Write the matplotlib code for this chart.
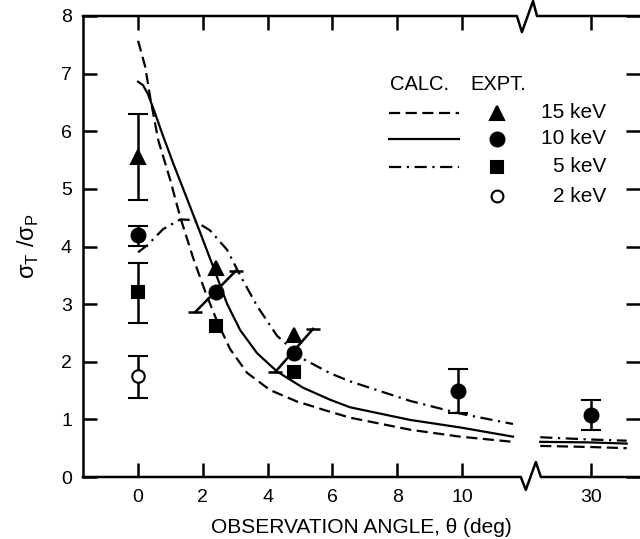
import numpy as np
import matplotlib.pyplot as plt

plt.rcParams['font.family'] = ['Liberation Sans', 'DejaVu Sans']
plt.rcParams['mathtext.fontset'] = 'custom'
plt.rcParams['mathtext.rm'] = 'Liberation Sans'


# broken x axis: 0..12 linear, then a compressed segment around 30 deg
def pos(theta):
    theta = np.asarray(theta, dtype=float)
    return np.where(theta <= 15, theta, 13.98 + (theta - 30) * 0.157)


# calculated curves (left segment)
th_15 = [0, 0.22, 0.37, 0.62, 0.99, 1.30, 1.70, 2.07, 2.44, 2.84, 3.36, 4.07, 4.9, 5.31, 5.7, 6.54, 8.4, 9.94, 11.57]
calc_15 = [7.57, 7.12, 6.6, 5.85, 5.16, 4.51, 3.80, 3.22, 2.70, 2.22, 1.81, 1.51, 1.31, 1.24, 1.17, 1.03, 0.82, 0.70, 0.61]
th_10 = [0, 0.15, 0.30, 0.50, 0.75, 1.08, 1.51, 1.91, 2.31, 2.75, 3.15, 3.67, 4.29, 5.09, 5.93, 6.54, 8.4, 9.94, 11.57]
calc_10 = [6.86, 6.80, 6.65, 6.35, 5.95, 5.45, 4.83, 4.25, 3.66, 3.00, 2.55, 2.15, 1.83, 1.55, 1.34, 1.21, 0.99, 0.86, 0.70]
th_5 = [0, 0.28, 0.77, 1.3, 1.7, 2.22, 2.75, 3.15, 3.67, 4.29, 5.09, 5.93, 6.54, 8.4, 9.94, 11.57]
calc_5 = [3.9, 4.02, 4.30, 4.47, 4.46, 4.28, 3.94, 3.50, 2.97, 2.45, 2.05, 1.80, 1.66, 1.32, 1.10, 0.92]

# calculated curves (right segment)
th_far = [20, 30, 37]
far_15 = [0.54, 0.52, 0.50]
far_10 = [0.61, 0.60, 0.58]
far_5 = [0.69, 0.65, 0.63]

# experiment
exp15_th = [0, 2.41, 4.81]
exp15_val = [5.55, 3.62, 2.47]
exp15_lo = [4.81, np.nan, np.nan]
exp15_hi = [6.30, np.nan, np.nan]

exp10_th = [0, 2.41, 4.81, 9.88, 30]
exp10_val = [4.20, 3.21, 2.15, 1.49, 1.08]
exp10_lo = [4.01, np.nan, np.nan, 1.11, 0.82]
exp10_hi = [4.36, np.nan, np.nan, 1.88, 1.34]

exp5_th = [0, 2.41, 4.81]
exp5_val = [3.21, 2.62, 1.82]
exp5_lo = [2.67, np.nan, np.nan]
exp5_hi = [3.71, np.nan, np.nan]

exp2_th = [0]
exp2_val = [1.75]
exp2_lo = [1.37]
exp2_hi = [2.10]

# tilted error bars on the 10 keV points at 2.4 and 4.8 deg
tilt_x = [[1.76, 3.02], [4.23, 5.40]]
tilt_y = [[2.86, 3.58], [1.82, 2.57]]

xticks = [0, 2, 4, 6, 8, 10, 30]
yticks = [0, 1, 2, 3, 4, 5, 6, 7, 8]

fig = plt.figure(figsize=(6.4, 5.39), dpi=100)
ax = fig.add_axes([83 / 640, 62 / 539, 557 / 640, 461 / 539])
ax.set_xlim(-1.70, 15.49)
ax.set_ylim(0, 8)

lw = 1.6
dash = (5, 2.5)
dashdot = (5.5, 2.5, 1, 2.5)
ax.plot(th_15, calc_15, color='black', lw=lw, dashes=dash)
ax.plot(th_10, calc_10, color='black', lw=lw)
ax.plot(th_5, calc_5, color='black', lw=lw, dashes=dashdot)
ax.plot(pos(th_far), far_15, color='black', lw=lw, dashes=dash)
ax.plot(pos(th_far), far_10, color='black', lw=lw)
ax.plot(pos(th_far), far_5, color='black', lw=lw, dashes=dashdot)


def exp_points(th, val, lo, hi, marker, ms, mfc):
    val = np.array(val)
    err = [val - np.array(lo), np.array(hi) - val]
    ax.errorbar(pos(th), val, yerr=err, fmt=marker, ms=ms, mfc=mfc, mec='black',
                mew=1.5, ecolor='black', elinewidth=1.8, capsize=7, capthick=1.8, zorder=3)


exp_points(exp15_th, exp15_val, exp15_lo, exp15_hi, '^', 10, 'black')
exp_points(exp10_th, exp10_val, exp10_lo, exp10_hi, 'o', 10, 'black')
exp_points(exp5_th, exp5_val, exp5_lo, exp5_hi, 's', 9, 'black')
exp_points(exp2_th, exp2_val, exp2_lo, exp2_hi, 'o', 9, 'white')

for tx, ty in zip(tilt_x, tilt_y):
    ax.plot(tx, ty, color='black', lw=1.8, marker='_', ms=10, mew=1.8, zorder=3)

# axes frame with break marks
for s in ['top', 'bottom', 'right']:
    ax.spines[s].set_visible(False)
ax.spines['left'].set_linewidth(1.8)

top_x = [0, 0.779, 0.788, 0.808, 0.815, 1.0]
top_y = [1.0, 1.0, 0.965, 1.0325, 1.0, 1.0]
bot_x = [0, 0.786, 0.795, 0.813, 0.822, 1.0]
bot_y = [0.0, 0.0, -0.028, 0.0325, 0.0, 0.0]
ax.plot(top_x, top_y, color='black', lw=1.8, transform=ax.transAxes, clip_on=False)
ax.plot(bot_x, bot_y, color='black', lw=1.8, transform=ax.transAxes, clip_on=False)

ax.set_xticks(pos(xticks))
ax.set_xticklabels([str(t) for t in xticks])
ax.set_yticks(yticks)
ax.tick_params(direction='in', top=True, right=True, length=10, width=1.8, labelsize=14)
ax.tick_params(axis='x', pad=9)
ax.tick_params(axis='y', pad=8)

ax.set_xlabel('OBSERVATION ANGLE, θ (deg)', fontsize=15, labelpad=8)
ax.set_ylabel('σ$_{\\rm T}$ /σ$_{\\rm P}$', fontsize=17, labelpad=14)


# legend drawn by hand
def ax_pt(px, py):
    return (px - 83) / 557, (477 - py) / 461


tr = ax.transAxes
x0, _ = ax_pt(389, 0)
x1, _ = ax_pt(459, 0)
mx, _ = ax_pt(497, 0)
lx, _ = ax_pt(606, 0)
hx1, hy = ax_pt(420, 85)
hx2, _ = ax_pt(498, 85)
ax.text(hx1, hy, 'CALC.', transform=tr, ha='center', va='center', fontsize=14.5)
ax.text(hx2, hy, 'EXPT.', transform=tr, ha='center', va='center', fontsize=14.5)

rows = [
    (113, dash, '^', 'black', 10, '15 keV'),
    (139, None, 'o', 'black', 10, '10 keV'),
    (167, dashdot, 's', 'black', 9, '5 keV'),
    (196, 'none', 'o', 'white', 8.5, '2 keV'),
]
for py, style, marker, mfc, ms, label in rows:
    _, yy = ax_pt(0, py)
    if style == 'none':
        pass
    elif style is None:
        ax.plot([x0, x1], [yy, yy], color='black', lw=lw, transform=tr)
    else:
        ax.plot([x0, x1], [yy, yy], color='black', lw=lw, dashes=style, transform=tr)
    ax.plot([mx], [yy], marker=marker, ms=ms, mfc=mfc, mec='black', mew=1.5,
            transform=tr, clip_on=False)
    ax.text(lx, yy, label, transform=tr, ha='right', va='center', fontsize=15)

fig.savefig('out.png', dpi=100)
